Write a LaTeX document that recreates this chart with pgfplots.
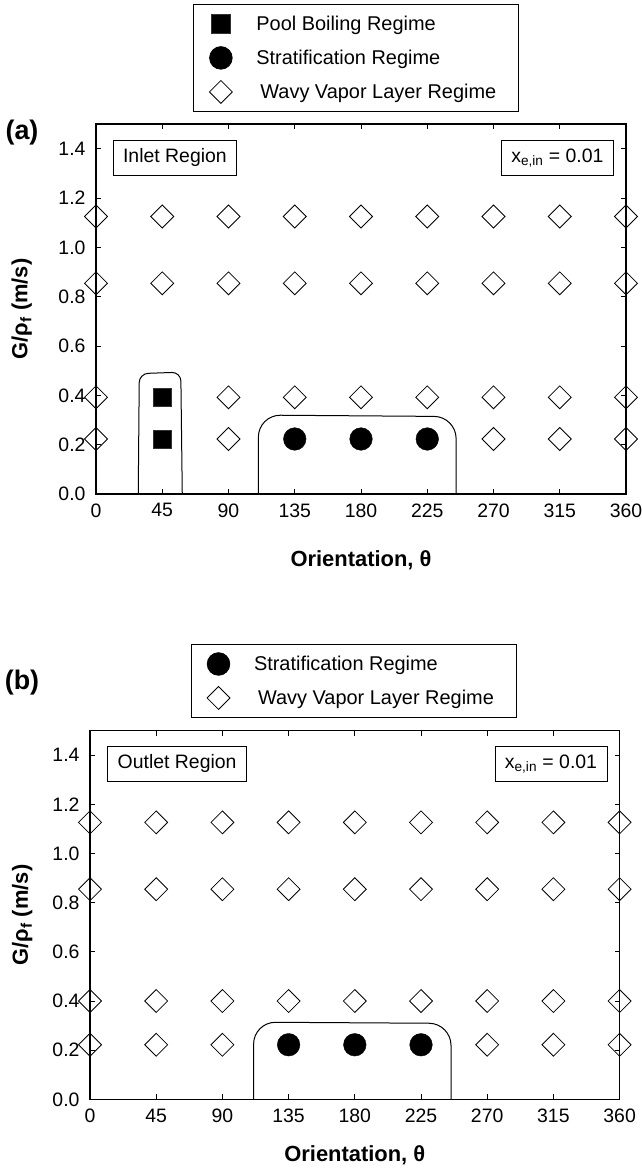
\documentclass[border=0pt]{standalone}
\usepackage{fontspec}
\setmainfont{Liberation Sans}
\usepackage{pgfplots}
\pgfplotsset{compat=1.18}

\pgfplotsset{
  myaxis/.style={
    scale only axis,
    xmin=0, xmax=360, ymin=0, ymax=1.5,
    xtick={0,45,90,135,180,225,270,315,360},
    ytick={0,0.2,0.4,0.6,0.8,1.0,1.2,1.4},
    tick align=inside,
    major tick length=5bp,
    axis line style={line width=1.4bp},
    every tick/.style={black, line width=0.9bp},
    tick label style={font=\fontsize{19.5}{22}\selectfont},
    /pgf/number format/assume math mode=true,
    yticklabel style={/pgf/number format/fixed, /pgf/number format/fixed zerofill, /pgf/number format/precision=1, xshift=-7bp},
    xticklabel style={yshift=-6bp},
    label style={font=\fontsize{22}{26}\selectfont\bfseries},
    xlabel={Orientation, θ},
    ylabel={G/ρ\textsubscript{f} (m/s)},
    clip=false,
    legend image code/.code={\path[draw=none,fill=none] (-27.5bp,-17bp) rectangle (35.5bp,17bp); \draw[##1] plot coordinates {(0bp,0bp)};},
    legend style={draw=black, line width=0.8bp, inner xsep=0bp, inner ysep=2.5bp, row sep=0bp, nodes={inner sep=0bp}, font=\fontsize{20}{23}\selectfont, anchor=north west, fill=white},
    diam/.style={only marks, mark=square, mark size=8.1bp, mark options={rotate=45, fill=white, draw=black, line width=0.8bp}},
    circ/.style={only marks, mark=*, mark size=11.3bp, mark options={fill=black, draw=black}},
    sq/.style={only marks, mark=square*, mark size=9.3bp, mark options={fill=black, draw=black!80}},
    bound/.style={black, line width=1bp, forget plot, mark=none},
  }
}

\begin{document}
\begin{tikzpicture}
\useasboundingbox (0bp,0bp) rectangle (642bp,-1170bp);
\node[font=\fontsize{27}{30}\selectfont\bfseries] at (22bp,-133bp) {(a)};
\node[font=\fontsize{27}{30}\selectfont\bfseries] at (22bp,-683bp) {(b)};

% ---------------- Panel (a) ----------------
\begin{axis}[myaxis, at={(96bp,-494bp)}, anchor=south west, width=530bp, height=370bp,
  legend style={at={(0.183,1.3243)}},
  xlabel style={at={(axis description cs:0.5,-0.18)}, anchor=center},
  ylabel style={at={(axis description cs:-0.14,0.5)}, anchor=center}]
\addplot[sq] coordinates {(45,0.392)(45,0.223)};
\addlegendentry{\makebox[262bp][l]{Pool Boiling Regime}}
\addplot[circ] coordinates {(135,0.223)(180,0.223)(225,0.223)};
\addlegendentry{\makebox[262bp][l]{Stratification Regime}}
\addplot[diam] coordinates {
 (0,1.125)(0,0.854)(0,0.392)(0,0.223)
 (45,1.125)(45,0.854)
 (90,1.125)(90,0.854)(90,0.392)(90,0.223)
 (135,1.125)(135,0.854)(135,0.392)
 (180,1.125)(180,0.854)(180,0.392)
 (225,1.125)(225,0.854)(225,0.392)
 (270,1.125)(270,0.854)(270,0.392)(270,0.223)
 (315,1.125)(315,0.854)(315,0.392)(315,0.223)
 (360,1.125)(360,0.854)(360,0.392)(360,0.223)};
\addlegendentry{\makebox[262bp][l]{\hspace{4bp}Wavy Vapor Layer Regime}}
\addplot[bound, rounded corners=9bp] coordinates {(28.7,0)(29.4,0.488)(57.6,0.494)(58.6,0)};
\addplot[bound, rounded corners=22bp] coordinates {(110.3,0)(110.3,0.320)(244.6,0.314)(244.6,0)};
\node[draw, line width=0.8bp, anchor=north west, inner xsep=10bp, minimum height=35bp, font=\fontsize{19.5}{22}\selectfont] at (axis description cs:0.0315,0.957) {Inlet Region};
\node[draw, line width=0.8bp, anchor=north east, inner xsep=10bp, minimum height=35bp, font=\fontsize{19.5}{22}\selectfont] at (axis description cs:0.977,0.957) {x\textsubscript{e,in} = 0.01};
\end{axis}

% ---------------- Panel (b) ----------------
\begin{axis}[myaxis, at={(90bp,-1099.3bp)}, anchor=south west, width=529.6bp, height=368.6bp,
  legend style={at={(0.190,1.235)}},
  xlabel style={at={(axis description cs:0.5,-0.151)}, anchor=center},
  ylabel style={at={(axis description cs:-0.128,0.5)}, anchor=center}]
\addplot[circ] coordinates {(135,0.222)(180,0.222)(225,0.222)};
\addlegendentry{\makebox[262bp][l]{Stratification Regime}}
\addplot[diam] coordinates {
 (0,1.127)(0,0.855)(0,0.400)(0,0.222)
 (45,1.127)(45,0.855)(45,0.400)(45,0.222)
 (90,1.127)(90,0.855)(90,0.400)(90,0.222)
 (135,1.127)(135,0.855)(135,0.400)
 (180,1.127)(180,0.855)(180,0.400)
 (225,1.127)(225,0.855)(225,0.400)
 (270,1.127)(270,0.855)(270,0.400)(270,0.222)
 (315,1.127)(315,0.855)(315,0.400)(315,0.222)
 (360,1.127)(360,0.855)(360,0.400)(360,0.222)};
\addlegendentry{\makebox[262bp][l]{\hspace{4bp}Wavy Vapor Layer Regime}}
\addplot[bound, rounded corners=22bp] coordinates {(111.2,0)(111.2,0.314)(245.4,0.309)(245.4,0)};
\node[draw, line width=0.8bp, anchor=north west, inner xsep=10bp, minimum height=35bp, font=\fontsize{19.5}{22}\selectfont] at (axis description cs:0.0327,0.9585) {Outlet Region};
\node[draw, line width=0.8bp, anchor=north east, inner xsep=10bp, minimum height=35bp, font=\fontsize{19.5}{22}\selectfont] at (axis description cs:0.977,0.9585) {x\textsubscript{e,in} = 0.01};
\end{axis}
\end{tikzpicture}
\end{document}
